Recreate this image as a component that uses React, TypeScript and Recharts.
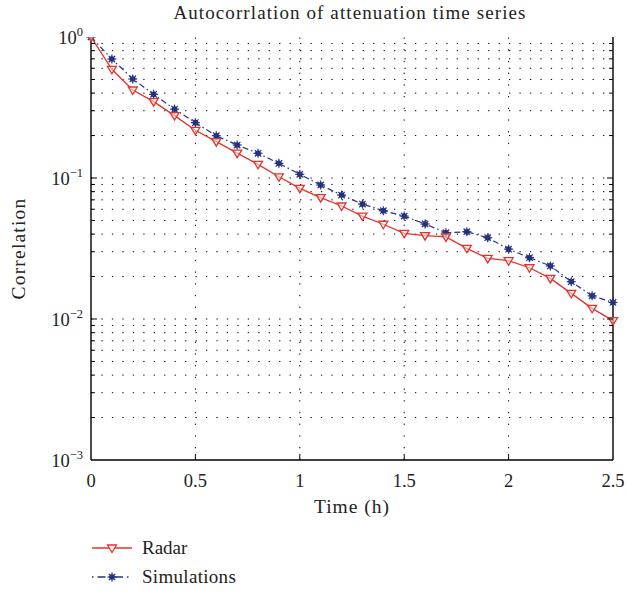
import React from 'react';
import { LineChart, Line, XAxis, YAxis, ReferenceLine, Legend } from 'recharts';

const titleText = 'Autocorrlation of attenuation time series';
const xLabelText = 'Time (h)';
const yLabelText = 'Correlation';

const times = [0, 0.1, 0.2, 0.3, 0.4, 0.5, 0.6, 0.7, 0.8, 0.9, 1.0, 1.1, 1.2, 1.3, 1.4, 1.5, 1.6, 1.7, 1.8, 1.9, 2.0, 2.1, 2.2, 2.3, 2.4, 2.5];
const radar = [1, 0.59, 0.421, 0.348, 0.277, 0.218, 0.181, 0.15, 0.125, 0.102, 0.0845, 0.0725, 0.0633, 0.0537, 0.047, 0.0405, 0.039, 0.0382, 0.0317, 0.0269, 0.0259, 0.0231, 0.0194, 0.0152, 0.0119, 0.00973];
const simulations = [1, 0.698, 0.504, 0.392, 0.308, 0.247, 0.1995, 0.1714, 0.1497, 0.127, 0.1062, 0.0892, 0.0757, 0.0654, 0.0586, 0.0537, 0.0472, 0.0409, 0.0416, 0.0377, 0.0313, 0.0272, 0.0238, 0.0184, 0.0146, 0.0131];

const xTicks = [0, 0.5, 1, 1.5, 2, 2.5];
const xGrid = [0.5, 1, 1.5, 2];
const decadeExponents = [-3, -2, -1];
const mantissas = [1, 2, 3, 4, 5, 6, 7, 8, 9];

const yTicks: number[] = [];
decadeExponents.forEach((e) => mantissas.forEach((m) => yTicks.push(Number((m * Math.pow(10, e)).toPrecision(3)))));
yTicks.push(1);
const yGrid = yTicks.filter((v) => v !== 0.001 && v !== 1);

const data = times.map((t, i) => ({ t, radar: radar[i], sim: simulations[i] }));

const RED = '#e2332b';
const BLUE = '#25337f';
const FONT = '"Liberation Serif", "Times New Roman", serif';
const TXT = '#222';

const isDecade = (v: number) => Math.abs(Math.log10(v) - Math.round(Math.log10(v))) < 1e-6;

const LeftTick = (props: any) => {
  const { x, y, payload } = props;
  const v = payload.value;
  const dec = isDecade(v);
  const len = dec ? 6 : 4;
  const e = Math.round(Math.log10(v));
  return (
    <g>
      {v !== 0.001 && v !== 1 && <line x1={x} x2={x + len} y1={y} y2={y} stroke="#000" strokeWidth={1} />}
      {dec && (
        <text x={x - 8} y={y + 7} textAnchor="end" fontFamily={FONT} fontSize={18.5} fill={TXT}>
          <tspan>10</tspan>
          <tspan dy={-8} fontSize={12.5}>{e === 0 ? '0' : '\u2212' + Math.abs(e)}</tspan>
        </text>
      )}
    </g>
  );
};

const RightTick = (props: any) => {
  const { x, y, payload } = props;
  const v = payload.value;
  const len = isDecade(v) ? 6 : 4;
  if (v === 0.001 || v === 1) return <g />;
  return <line x1={x - len} x2={x} y1={y} y2={y} stroke="#000" strokeWidth={1} />;
};

const BottomTick = (props: any) => {
  const { x, y, payload } = props;
  const v = payload.value;
  return (
    <g>
      {v !== 0 && v !== 2.5 && <line x1={x} x2={x} y1={y} y2={y - 6} stroke="#000" strokeWidth={1} />}
      <text x={x} y={y + 27} textAnchor="middle" fontFamily={FONT} fontSize={18.5} fill={TXT}>
        {String(v)}
      </text>
    </g>
  );
};

const TopTick = (props: any) => {
  const { x, y, payload } = props;
  const v = payload.value;
  if (v === 0 || v === 2.5) return <g />;
  return <line x1={x} x2={x} y1={y} y2={y + 6} stroke="#000" strokeWidth={1} />;
};

const triPath = (cx: number, cy: number) =>
  `M${cx - 4.5},${cy - 3} L${cx + 4.5},${cy - 3} L${cx},${cy + 4.5} Z`;

const RadarDot = (props: any) => {
  const { cx, cy, index } = props;
  if (cx == null || cy == null) return <g key={`rd-${index}`} />;
  return <path key={`rd-${index}`} d={triPath(cx, cy)} fill="#fff" fillOpacity={0.5} stroke={RED} strokeWidth={1.3} />;
};

const StarShape = ({ cx, cy }: { cx: number; cy: number }) => (
  <g>
    <circle cx={cx} cy={cy} r={2.8} fill={BLUE} />
    <line x1={cx - 4.5} x2={cx + 4.5} y1={cy} y2={cy} stroke={BLUE} strokeWidth={1.2} />
    <line x1={cx - 3.2} x2={cx + 3.2} y1={cy - 3.2} y2={cy + 3.2} stroke={BLUE} strokeWidth={1.2} />
    <line x1={cx - 3.2} x2={cx + 3.2} y1={cy + 3.2} y2={cy - 3.2} stroke={BLUE} strokeWidth={1.2} />
    <line x1={cx} x2={cx} y1={cy - 4.5} y2={cy + 4.5} stroke={BLUE} strokeWidth={1.2} />
  </g>
);

const SimDot = (props: any) => {
  const { cx, cy, index } = props;
  if (cx == null || cy == null) return <g key={`sd-${index}`} />;
  return (
    <g key={`sd-${index}`}>
      <StarShape cx={cx} cy={cy} />
    </g>
  );
};

const DASH = '6 3 1.5 3';

const LegendContent = () => (
  <svg width={200} height={62} style={{ display: 'block' }}>
    <line x1={12} x2={52} y1={18} y2={18} stroke={RED} strokeWidth={1.3} />
    <path d={triPath(32, 18)} fill="#fff" stroke={RED} strokeWidth={1.3} />
    <text x={62} y={24} fontFamily={FONT} fontSize={19} fill={TXT}>Radar</text>
    <line x1={12} x2={52} y1={47} y2={47} stroke={BLUE} strokeWidth={1.3} strokeDasharray="1.5 4 8 4" />
    <StarShape cx={32} cy={47} />
    <text x={62} y={53} fontFamily={FONT} fontSize={19} fill={TXT} letterSpacing={0.3}>Simulations</text>
  </svg>
);

export default function App() {
  return (
    <div style={{ position: 'absolute', left: 0, top: 0, width: 626, height: 594, background: '#fff' }}>
      <LineChart width={626} height={594} data={data} margin={{ top: 37, right: 0, bottom: 104, left: 0 }}>
        <text x={350} y={19} textAnchor="middle" fontFamily={FONT} fontSize={19} fill={TXT} letterSpacing={1.1}>
          {titleText}
        </text>
        {yGrid.map((v) => (
          <ReferenceLine key={`gy-${v}`} y={v} stroke="#000" strokeWidth={1} strokeDasharray="1.3 9.15" />
        ))}
        {xGrid.map((v) => (
          <ReferenceLine key={`gx-${v}`} x={v} stroke="#000" strokeWidth={1} strokeDasharray="1.3 10.4" />
        ))}
        <XAxis
          dataKey="t"
          type="number"
          domain={[0, 2.5]}
          ticks={xTicks}
          interval={0}
          height={30}
          tickSize={0}
          tickMargin={0}
          tickLine={false}
          tick={<BottomTick />}
          axisLine={{ stroke: '#000', strokeWidth: 1.4 }}
          label={{ value: xLabelText, position: 'bottom', offset: 9, style: { fontFamily: FONT, fontSize: 19.5, fill: TXT, letterSpacing: 1 } }}
        />
        <XAxis
          xAxisId="top"
          orientation="top"
          type="number"
          domain={[0, 2.5]}
          ticks={xTicks}
          interval={0}
          height={0}
          tickSize={0}
          tickMargin={0}
          tickLine={false}
          tick={<TopTick />}
          axisLine={{ stroke: '#000', strokeWidth: 1.4 }}
        />
        <YAxis
          type="number"
          scale="log"
          domain={[0.001, 1]}
          allowDataOverflow
          ticks={yTicks}
          interval={0}
          width={91}
          tickSize={0}
          tickMargin={0}
          tickLine={false}
          tick={<LeftTick />}
          axisLine={{ stroke: '#000', strokeWidth: 1.4 }}
          label={{ value: yLabelText, angle: -90, position: 'insideLeft', offset: 18, style: { fontFamily: FONT, fontSize: 19.5, fill: TXT, textAnchor: 'middle', letterSpacing: 1.2 } }}
        />
        <YAxis
          yAxisId="right"
          orientation="right"
          type="number"
          scale="log"
          domain={[0.001, 1]}
          allowDataOverflow
          ticks={yTicks}
          interval={0}
          width={13}
          tickSize={0}
          tickMargin={0}
          tickLine={false}
          tick={<RightTick />}
          axisLine={{ stroke: '#000', strokeWidth: 1.4 }}
        />
        <Line
          dataKey="sim"
          type="linear"
          stroke={BLUE}
          strokeWidth={1.2}
          strokeDasharray={DASH}
          dot={SimDot}
          activeDot={false}
          isAnimationActive={false}
        />
        <Line
          dataKey="radar"
          type="linear"
          stroke={RED}
          strokeWidth={1.3}
          dot={RadarDot}
          activeDot={false}
          isAnimationActive={false}
        />
        <Legend
          layout="vertical"
          align="center"
          verticalAlign="middle"
          content={LegendContent}
          wrapperStyle={{ left: 80, top: 530, width: 200, height: 62 }}
        />
      </LineChart>
    </div>
  );
}
